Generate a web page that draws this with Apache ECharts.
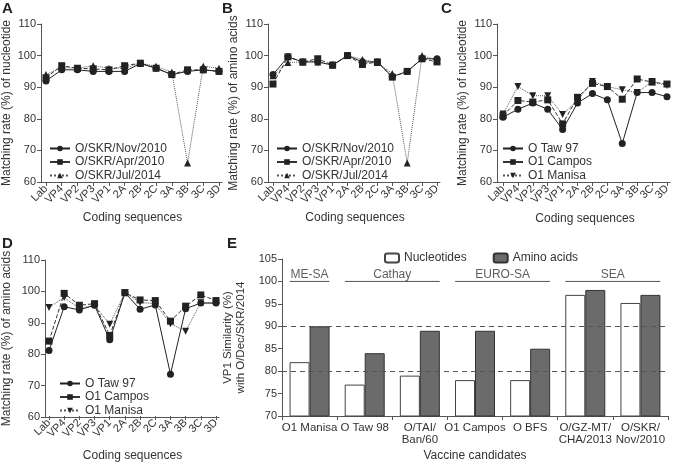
<!DOCTYPE html>
<html><head><meta charset="utf-8">
<script src="https://cdn.jsdelivr.net/npm/echarts@6/dist/echarts.min.js"></script>
<style>html,body{margin:0;padding:0;background:#fff}#c{width:673px;height:463px}</style>
</head><body><div id="c"></div>
<script>
// ---------- DATA ----------
const codingSeqs = ['Lab','VP4','VP2','VP3','VP1','2A','2B','2C','3A','3B','3C','3D'];

// A: nucleotide matching rate
const ntNov2010 = [92, 95.5, 95.5, 95, 95, 95, 97.5, 96, 94, 95, 95.5, 95];
const ntApr2010 = [93, 96.8, 96, 95.8, 95.5, 96.8, 97.6, 96, 94, 95.5, 95.5, 95];
const ntJul2014 = [94, 96.2, 96, 96.8, 96, 96, 97.6, 96.6, 94.8, 66, 96.6, 96];
// B: amino acid matching rate
const aaNov2010 = [94, 99.6, 98, 98, 97, 100, 98, 98, 93.3, 95, 99, 99];
const aaApr2010 = [91, 99.6, 98, 99, 97, 100, 97.2, 98, 93.2, 95, 99, 98];
const aaJul2014 = [93.6, 97.8, 98, 98, 97, 100, 98.8, 97.8, 94.3, 66, 100, 98.5];
// C: nucleotide matching rate vs vaccine strains
const ntTaw97  = [80.5, 83, 85, 83, 76.6, 85, 88, 86, 72.2, 88.3, 88.3, 87];
const ntCampos = [81, 85.8, 85.3, 86, 78.4, 86.8, 91.2, 90.2, 86.2, 92.6, 91.6, 91];
const ntManisa = [81.5, 90.2, 87.3, 87.3, 81.4, 85.8, 91.8, 90.2, 89.2, 88.3, 91.8, 90.5];
// D: amino acid matching rate vs vaccine strains
const aaTaw97  = [81, 95, 94, 95.5, 84.4, 99.5, 94.2, 95.6, 73.4, 94.4, 96.2, 96.2];
const aaCampos = [84, 99.3, 95.5, 96, 85.8, 99.5, 97.2, 97, 90.4, 95.2, 98.8, 97];
const aaManisa = [94.8, 98, 94.5, 95.5, 89.4, 99.5, 96.4, 96, 89.6, 87.2, 96.3, 96.2];

const seriesNamesAB = ['O/SKR/Nov/2010', 'O/SKR/Apr/2010', 'O/SKR/Jul/2014'];
const seriesNamesCD = ['O Taw 97', 'O1 Campos', 'O1 Manisa'];

// E: VP1 similarity
const candidates = ['O1 Manisa', 'O Taw 98', 'O/TAI/\nBan/60', 'O1 Campos', 'O BFS', 'O/GZ-MT/\nCHA/2013', 'O/SKR/\nNov/2010'];
const vp1Nucleotides = [82, 77, 79, 78, 78, 97, 95.2];
const vp1AminoAcids  = [90, 84, 89, 89, 85, 98.1, 97];
const topoNames = ['ME-SA', 'Cathay', 'EURO-SA', 'SEA'];
const topoStart = [0, 1, 3, 5];
const topoEnd   = [0, 2, 4, 6];
const topoLevel = 100;
const thresholds = [80, 90];

// ---------- CHART ----------
const FONT = '"Liberation Sans", Arial, Helvetica, sans-serif';
const TXT = '#333';
const AX = '#555';
const chart = echarts.init(document.getElementById('c'), null, {renderer: 'canvas'});

// frame: y-axis position, first/last category positions, x-axis end
const panels = [
  {letter:'A', axisX:40, firstX:46, lastX:219, endX:222, top:24, height:158, yName:'Matching rate (%) of nucleotide', names:seriesNamesAB, data:[ntNov2010, ntApr2010, ntJul2014], down:false, legend:{left:44, top:137}, pos:[2,1], xGap:30, yGap:28},
  {letter:'B', axisX:268, firstX:273, lastX:437, endX:440, top:24, height:158, yName:'Matching rate (%) of amino acids', names:seriesNamesAB, data:[aaNov2010, aaApr2010, aaJul2014], down:false, legend:{left:271, top:137}, pos:[222,1], xGap:30, yGap:28},
  {letter:'C', axisX:497, firstX:503, lastX:667, endX:670, top:24, height:158, yName:'Matching rate (%) of nucleotide', names:seriesNamesCD, data:[ntTaw97, ntCampos, ntManisa], down:true, legend:{left:497, top:137}, pos:[441,1], xGap:31, yGap:28},
  {letter:'D', axisX:45, firstX:49, lastX:216, endX:219, top:260, height:157, yName:'Matching rate (%) of amino acids', names:seriesNamesCD, data:[aaTaw97, aaCampos, aaManisa], down:true, legend:{left:54, top:372}, pos:[2,236], xGap:34, yGap:32}
];
const lineStyles = [
  {symbol:'circle', type:'solid', color:'#222', size:7},
  {symbol:'rect', type:'dashed', color:'#333', size:7},
  {symbol:'triangle', type:'dotted', color:'#555', size:7}
];

const grids = [], xAxes = [], yAxes = [], series = [], legends = [], graphics = [];

panels.forEach((p) => {
  // outer frame grid: visible y axis + x axis line
  const go = grids.length;
  grids.push({left: p.axisX, top: p.top, width: p.endX - p.axisX, height: p.height});
  xAxes.push({gridIndex: go, type: 'value', min: 0, max: 1,
    axisLine: {show: true, onZero: false, lineStyle: {color: AX, width: 1}},
    axisTick: {show: false}, axisLabel: {show: false}, splitLine: {show: false}});
  yAxes.push({
    gridIndex: go, type: 'value', min: 60, max: 110, interval: 10,
    name: p.yName, nameLocation: 'middle', nameGap: p.yGap,
    nameTextStyle: {fontFamily: FONT, fontSize: 12, color: TXT},
    axisLine: {show: true, onZero: false, lineStyle: {color: AX, width: 1}},
    axisTick: {show: true, length: 4, lineStyle: {color: AX}},
    axisLabel: {fontFamily: FONT, fontSize: 11, color: TXT, margin: 5},
    splitLine: {show: false}
  });
  // inner data grid: category positions
  const gi = grids.length;
  grids.push({left: p.firstX, top: p.top, width: p.lastX - p.firstX, height: p.height});
  xAxes.push({
    gridIndex: gi, type: 'category', data: codingSeqs, boundaryGap: false,
    name: 'Coding sequences', nameLocation: 'middle', nameGap: p.xGap,
    nameTextStyle: {fontFamily: FONT, fontSize: 12, color: TXT},
    axisLine: {show: false, onZero: false},
    axisTick: {show: true, length: 4, interval: 0, lineStyle: {color: AX}},
    axisLabel: {interval: 0, rotate: 45, fontFamily: FONT, fontSize: 11, color: TXT, margin: 5},
    splitLine: {show: false}
  });
  yAxes.push({gridIndex: gi, type: 'value', min: 60, max: 110, show: false});
  p.data.forEach((vals, si) => {
    const st = lineStyles[si];
    series.push({
      type: 'line', name: p.names[si], xAxisIndex: gi, yAxisIndex: gi,
      data: vals,
      symbol: st.symbol, symbolSize: st.size,
      symbolRotate: (p.down && si === 2) ? 180 : 0,
      lineStyle: {type: st.type, color: st.color, width: 1},
      itemStyle: {color: '#222'},
      z: 3 - si, animation: false
    });
  });
  legends.push({
    left: p.legend.left, top: p.legend.top, orient: 'vertical',
    data: p.names,
    itemWidth: 20, itemHeight: 7, itemGap: 0.5,
    textStyle: {fontFamily: FONT, fontSize: 12, color: TXT, lineHeight: 13},
    selectedMode: false
  });
  graphics.push({type: 'text', left: p.pos[0], top: p.pos[1], style: {text: p.letter, font: 'bold 15px ' + FONT, fill: '#222'}});
});

// Panel E
const gE = grids.length;
const xE = xAxes.length;
const yE = yAxes.length;
grids.push({left: 282, top: 259, width: 386, height: 158});
xAxes.push({
  gridIndex: gE, type: 'category', data: candidates,
  name: 'Vaccine candidates', nameLocation: 'middle', nameGap: 34,
  nameTextStyle: {fontFamily: FONT, fontSize: 12, color: TXT},
  axisLine: {show: true, onZero: false, lineStyle: {color: AX}},
  axisTick: {show: true, length: 4, lineStyle: {color: AX}},
  axisLabel: {fontFamily: FONT, fontSize: 11.5, color: TXT, lineHeight: 12, margin: 6, interval: 0}
});
xAxes.push({gridIndex: gE, type: 'value', min: -0.5, max: candidates.length - 0.5, show: false});
yAxes.push({
  gridIndex: gE, type: 'value', min: 70, max: 105, interval: 5,
  name: 'VP1 Similarity (%)\nwith O/Dec/SKR/2014', nameLocation: 'middle', nameGap: 26,
  nameTextStyle: {fontFamily: FONT, fontSize: 11.5, color: TXT, lineHeight: 13},
  axisLine: {show: true, onZero: false, lineStyle: {color: AX}},
  axisTick: {show: true, length: 4, lineStyle: {color: AX}},
  axisLabel: {fontFamily: FONT, fontSize: 11, color: TXT, margin: 5},
  splitLine: {show: false}
});
series.push({
  type: 'bar', name: 'Nucleotides', xAxisIndex: xE, yAxisIndex: yE,
  data: vp1Nucleotides, barWidth: 20, barGap: '0%',
  itemStyle: {color: '#fff', borderColor: '#444', borderWidth: 1}, animation: false
});
series.push({
  type: 'bar', name: 'Amino acids', xAxisIndex: xE, yAxisIndex: yE,
  data: vp1AminoAcids, barWidth: 20, barGap: '0%',
  itemStyle: {color: '#6b6b6b', borderColor: '#333', borderWidth: 1}, animation: false,
  markLine: {
    silent: true, symbol: 'none', label: {show: false},
    lineStyle: {type: [5, 4], color: '#555', width: 1},
    data: thresholds.map(t => ({yAxis: t})), animation: false
  }
});
topoNames.forEach((name, k) => {
  series.push({
    type: 'line', xAxisIndex: xE + 1, yAxisIndex: yE, silent: true,
    data: [[topoStart[k] - 0.36, topoLevel], [topoEnd[k] + 0.36, topoLevel]],
    symbol: 'none', lineStyle: {color: '#555', width: 1}, animation: false
  });
  series.push({
    type: 'scatter', xAxisIndex: xE + 1, yAxisIndex: yE, silent: true,
    data: [[(topoStart[k] + topoEnd[k]) / 2, topoLevel]],
    symbolSize: 0,
    label: {show: true, position: 'top', distance: 1, formatter: () => name, fontFamily: FONT, fontSize: 12, color: TXT},
    animation: false
  });
});
legends.push({
  left: 379, top: 247, orient: 'horizontal',
  data: ['Nucleotides', 'Amino acids'],
  itemWidth: 14, itemHeight: 9, itemGap: 26,
  textStyle: {fontFamily: FONT, fontSize: 12, color: TXT},
  selectedMode: false
});
graphics.push({type: 'text', left: 227, top: 236, style: {text: 'E', font: 'bold 15px ' + FONT, fill: '#222'}});

chart.setOption({
  backgroundColor: '#fff',
  animation: false,
  grid: grids, xAxis: xAxes, yAxis: yAxes, series: series, legend: legends, graphic: graphics
});
</script>
</body></html>
